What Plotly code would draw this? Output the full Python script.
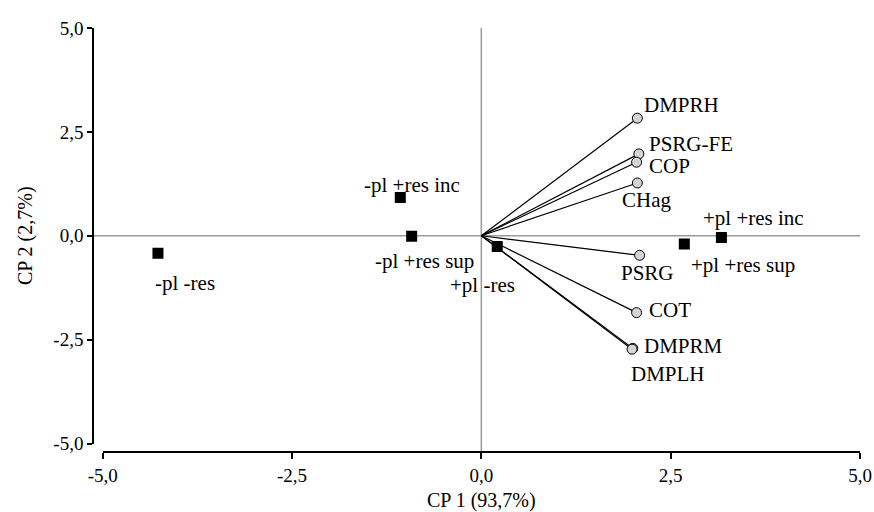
import plotly.graph_objects as go

# Variable loadings (circles with vectors from origin)
var_names = ['DMPRH', 'PSRG-FE', 'COP', 'CHag', 'PSRG', 'COT', 'DMPRM', 'DMPLH']
var_cp1 = [2.06, 2.08, 2.05, 2.06, 2.09, 2.05, 2.00, 1.99]
var_cp2 = [2.83, 1.97, 1.77, 1.27, -0.47, -1.85, -2.71, -2.73]

# Treatment scores (squares)
trt_names = ['-pl -res', '-pl +res inc', '-pl +res sup', '+pl -res', '+pl +res sup', '+pl +res inc']
trt_cp1 = [-4.27, -1.07, -0.92, 0.21, 2.68, 3.17]
trt_cp2 = [-0.42, 0.92, -0.01, -0.26, -0.20, -0.04]

tick_vals = [-5, -2.5, 0, 2.5, 5]
tick_text = ['-5,0', '-2,5', '0,0', '2,5', '5,0']

# label placement: (xanchor, dx px, dy px screen-down)
var_lab = [('left', 5, -13), ('left', 8, -10), ('left', 10, 4), ('center', 9, 17),
           ('center', 8, 18), ('left', 10, -3), ('left', 9, -2), ('center', 36, 25)]
trt_lab = [('center', 27, 30), ('center', 12, -13), ('center', 13, 25), ('center', -15, 38),
           ('left', 5, 21), ('left', -20, -19)]

FONT = 'Times New Roman, Liberation Serif, serif'

lx, ly = [], []
for x, y in zip(var_cp1, var_cp2):
    lx += [0, x, None]
    ly += [0, y, None]

fig = go.Figure()
fig.add_trace(go.Scatter(x=lx, y=ly, mode='lines', line=dict(color='black', width=1.2),
                         hoverinfo='skip'))
fig.add_trace(go.Scatter(x=trt_cp1, y=trt_cp2, mode='markers',
                         marker=dict(symbol='square', size=11, color='black')))
fig.add_trace(go.Scatter(x=var_cp1, y=var_cp2, mode='markers',
                         marker=dict(symbol='circle', size=10, color='#d4d4d4',
                                     line=dict(color='black', width=1))))

for name, x, y, (anc, dx, dy) in zip(var_names + trt_names, var_cp1 + trt_cp1,
                                     var_cp2 + trt_cp2, var_lab + trt_lab):
    fig.add_annotation(x=x, y=y, text=name, showarrow=False, xanchor=anc, yanchor='middle',
                       xshift=dx, yshift=-dy, font=dict(family=FONT, size=21, color='black'))

# zero lines spanning the whole plot area
fig.add_shape(type='line', xref='paper', yref='y', x0=0, x1=1, y0=0, y1=0,
              line=dict(color='#9a9a9a', width=1.5), layer='below')
fig.add_shape(type='line', xref='x', yref='paper', x0=0, x1=0, y0=0, y1=1,
              line=dict(color='#9a9a9a', width=1.5), layer='below')

axis_common = dict(range=[-5, 5], tickvals=tick_vals, ticktext=tick_text, showgrid=False,
                   zeroline=False, showline=True, linecolor='black', linewidth=1.5,
                   ticks='outside', tickcolor='black', tickwidth=1.5, automargin=False,
                   tickfont=dict(family=FONT, size=19, color='black'))

fig.update_layout(
    width=874, height=512,
    margin=dict(l=93, r=14, t=28, b=60),
    paper_bgcolor='white', plot_bgcolor='white',
    showlegend=False,
    xaxis=dict(axis_common, domain=[0.0126, 1], anchor='free', position=0, ticklen=6,
               title=dict(text='CP 1 (93,7%)', standoff=8,
                          font=dict(family=FONT, size=20, color='black'))),
    yaxis=dict(axis_common, domain=[0.02, 1], anchor='free', position=0, ticklen=5,
               title=dict(text='CP 2 (2,7%)', standoff=14,
                          font=dict(family=FONT, size=20, color='black'))),
)

# drop the default page margin so the figure fills the window exactly
fig.write_html("out.html", config={'displayModeBar': False},
               post_script="document.body.style.margin='0';")
